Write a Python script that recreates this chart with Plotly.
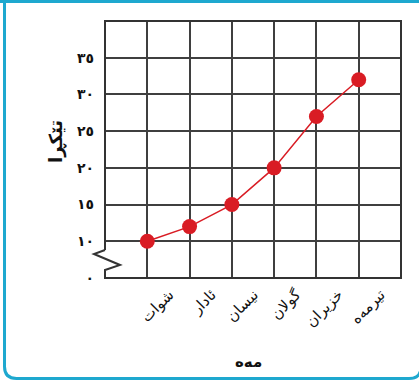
import plotly.graph_objects as go

# data
months = ["شوات", "ئادار", "نیسان", "گولان", "خزیران", "تیرمەه"]
values = [10, 12, 15, 20, 27, 32]
y_tickvals = [5, 10, 15, 20, 25, 30, 35]
y_ticktext = ["٠", "١٠", "١٥", "٢٠", "٢٥", "٣٠", "٣٥"]

W, H = 419, 381
L, R, T, B = 105, 18, 21, 103
PW, PH = W - L - R, H - T - B


def px(x, y):
    # pixel position -> paper coords
    return (x - L) / PW, (H - B - y) / PH


def path(points, close=False):
    s = ""
    for i, (x, y) in enumerate(points):
        a, b = px(x, y)
        s += ("M" if i == 0 else "L") + f"{a:.4f},{b:.4f} "
    return s + ("Z" if close else "")


red = "#d91c24"
teal = "#1ea8cf"

fig = go.Figure()
fig.add_trace(go.Scatter(
    x=months, y=values, mode="lines+markers",
    line=dict(color=red, width=1.5),
    marker=dict(color=red, size=15),
    hoverinfo="skip", showlegend=False, cliponaxis=False,
))

# plot border with the axis break on the left side
border = path([(105, 250), (105, 21), (401, 21), (401, 278), (105, 278), (105, 270),
               (120, 265), (94, 254), (105, 250)])


# outer rounded frame (right side, rounded bottom, left side)
def frame_path():
    r = 12
    right = 421
    p1 = px(right, 2); p2 = px(right, 378.5 - r)
    c1 = px(right, 378.5); p3 = px(right - r, 378.5)
    p4 = px(4.5 + r, 378.5); c2 = px(4.5, 378.5); p5 = px(4.5, 378.5 - r)
    p6 = px(4.5, 2)
    f = lambda p: f"{p[0]:.4f},{p[1]:.4f}"
    return (f"M{f(p1)} L{f(p2)} Q{f(c1)} {f(p3)} L{f(p4)} "
            f"Q{f(c2)} {f(p5)} L{f(p6)}")


t0 = px(0, 0)
t1 = px(W, 3)

fig.update_layout(
    width=W, height=H,
    margin=dict(l=L, r=R, t=T, b=B, autoexpand=False),
    paper_bgcolor="white", plot_bgcolor="white",
    font=dict(family="DejaVu Sans", color="#111"),
    xaxis=dict(range=[-1, 6], showgrid=True, gridcolor="#3f3f3f", gridwidth=1.6,
               showline=False, zeroline=False, tickangle=-45, automargin=False,
               tickfont=dict(size=15, color="#111"),
               ticklabelshift=22, ticklabelstandoff=4, fixedrange=True),
    yaxis=dict(range=[5, 40], tickvals=y_tickvals, ticktext=y_ticktext,
               showgrid=True, gridcolor="#3f3f3f", gridwidth=1.6, automargin=False,
               showline=False, zeroline=False, ticklabelstandoff=10,
               tickfont=dict(size=14, color="#111", weight="bold"), fixedrange=True),
    shapes=[
        dict(type="path", path=border, xref="paper", yref="paper",
             line=dict(color="#333", width=2)),
        dict(type="path", path=frame_path(), xref="paper", yref="paper",
             line=dict(color=teal, width=3)),
        # top edge of the frame
        dict(type="rect", x0=t0[0], x1=t1[0], y0=t0[1], y1=t1[1],
             xref="paper", yref="paper", fillcolor=teal, line=dict(width=0)),
    ],
    annotations=[
        dict(text="<b>تێکڕا</b>", textangle=-90, x=px(43, 142)[0], y=px(43, 142)[1],
             xref="paper", yref="paper", showarrow=False,
             font=dict(size=18, color="#111")),
        dict(text="<b>مەه</b>", x=px(248, 362)[0], y=px(248, 362)[1],
             xref="paper", yref="paper", showarrow=False, yanchor="middle",
             font=dict(size=15, color="#111")),
    ],
)

# the page has a default body margin; drop it so the figure fills the window
fig.write_html("out.html", config={"displayModeBar": False},
               post_script="document.body.style.margin='0';")
